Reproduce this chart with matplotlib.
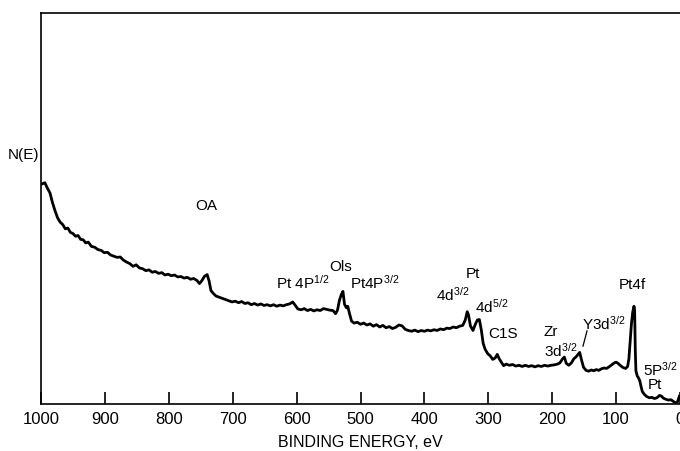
import matplotlib
matplotlib.use("Agg")
import matplotlib.pyplot as plt

plt.rcParams["font.family"] = ["Liberation Sans", "DejaVu Sans"]
plt.rcParams["mathtext.fontset"] = "custom"
plt.rcParams["mathtext.rm"] = "Liberation Sans"
plt.rcParams["mathtext.it"] = "Liberation Sans"

# XPS survey spectrum: binding energy (eV) and N(E) in arbitrary units
energy = [
    998, 994, 990, 986, 982, 978, 974, 970, 966, 962, 958, 954, 950, 946, 942,
    938, 934, 930, 926, 921, 916, 911, 906, 901, 896, 891, 886, 881, 876, 871,
    866, 861, 856, 851, 846, 841, 836, 831, 826, 821, 816, 811, 806, 801, 796,
    791, 786, 781, 776, 771, 766, 761, 756, 752, 748, 744, 740, 737, 734, 730,
    726, 721, 716, 711, 706, 701, 696, 691, 686, 681, 676, 671, 666, 661, 656,
    651, 646, 641, 636, 631, 626, 621, 616, 611, 606, 602, 598, 593, 588, 583,
    578, 573, 568, 563, 558, 553, 548, 543, 539, 536, 533, 530, 527.5, 525, 522,
    520, 517, 514, 510, 505, 500, 495, 490, 485, 480, 475, 470, 465, 460, 455,
    450, 445, 440, 435, 430, 425, 420, 415, 410, 405, 400, 395, 390, 385, 380,
    375, 370, 365, 360, 355, 350, 345, 340, 336, 333, 331, 328, 324, 320, 317,
    314, 311, 308, 305, 301, 297, 293, 289, 286, 283, 280, 276, 272, 267, 262,
    257, 252, 247, 242, 237, 232, 227, 222, 217, 212, 207, 202, 197, 192, 188,
    184, 181, 178, 174, 170, 166, 163, 160, 157, 154, 151, 147, 143, 139, 135,
    131, 127, 123, 119, 115, 111, 107, 103, 100, 97, 93, 89, 85, 82, 80,
    78, 76, 74, 72, 71, 70, 69, 67, 65, 63, 61, 59, 56, 52, 48,
    44, 40, 36, 32, 29, 26, 22, 18, 14, 10, 7, 4, 1,
]
counts = [
    56.3, 56.6, 55.2, 54.0, 51.5, 49.4, 47.6, 46.5, 45.9, 44.8, 45.0, 43.9, 43.6, 42.9, 43.1,
    42.1, 42.0, 41.2, 41.4, 40.3, 40.1, 39.5, 39.3, 38.7, 38.8, 38.1, 37.8, 37.5, 37.6, 36.8,
    36.3, 35.9, 35.2, 35.6, 34.8, 34.6, 34.1, 34.3, 33.7, 33.9, 33.4, 33.6, 33.0, 33.2, 32.8,
    33.0, 32.5, 32.6, 32.2, 32.4, 31.9, 32.1, 31.6, 30.8, 31.6, 32.7, 33.1, 31.5, 29.0, 28.2,
    27.6, 27.3, 27.0, 26.7, 26.4, 26.1, 26.3, 25.9, 26.2, 25.7, 25.9, 25.4, 25.7, 25.3, 25.6,
    25.2, 25.4, 25.1, 25.4, 25.0, 25.3, 25.1, 25.4, 25.6, 26.1, 25.2, 24.3, 24.1, 24.4, 23.9,
    24.2, 23.8, 24.1, 23.9, 24.4, 24.2, 24.0, 23.9, 23.1, 24.0, 26.5, 28.0, 28.8, 25.5, 24.6,
    25.0, 23.0, 21.2, 20.7, 20.9, 20.4, 20.7, 20.2, 20.5, 19.9, 20.3, 19.7, 20.1, 19.5, 19.8,
    19.3, 19.6, 20.2, 20.0, 19.1, 18.8, 18.6, 18.9, 18.5, 18.8, 18.6, 18.9, 18.7, 19.0, 18.8,
    19.2, 19.0, 19.4, 19.3, 19.7, 19.5, 19.9, 20.1, 21.5, 23.6, 22.8, 20.0, 18.8, 20.5, 21.5,
    21.6, 19.0, 15.5, 14.0, 12.9, 12.3, 11.4, 11.8, 12.7, 11.6, 10.8, 9.8, 10.2, 9.9, 10.1,
    9.7, 9.9, 9.6, 9.9, 9.6, 9.8, 9.5, 9.8, 9.6, 9.9, 9.7, 9.9, 10.0, 10.2, 10.5,
    11.5, 12.0, 10.4, 9.9, 10.5, 11.6, 12.0, 12.6, 13.2, 11.2, 9.4, 8.6, 8.4, 8.7, 8.5,
    8.8, 8.6, 9.0, 9.2, 9.1, 9.5, 10.0, 10.5, 10.7, 10.4, 9.8, 9.3, 9.1, 9.6, 11.5,
    16.0, 20.5, 23.5, 25.0, 24.0, 14.0, 8.5, 7.2, 6.7, 6.0, 4.5, 3.2, 2.5, 1.9, 1.6,
    1.7, 1.4, 1.6, 2.2, 2.0, 1.5, 1.2, 1.0, 1.1, 0.6, 0.3, 0.5, 2.0,
]

tick_values = [1000, 900, 800, 700, 600, 500, 400, 300, 200, 100, 0]
tick_labels = ["1000", "900", "800", "700", "600", "500", "400", "300", "200", "100", "0"]

# Peak labels: (text, binding energy, N(E) position)
peak_labels = [
    ("OA", 742, 50.9),
    ("Pt 4P$^{\\mathrm{1/2}}$", 590, 31.3),
    ("Ols", 530.5, 35.3),
    ("Pt4P$^{\\mathrm{3/2}}$", 477, 31.3),
    ("Pt", 324, 33.5),
    ("4d$^{\\mathrm{3/2}}$", 355, 28.3),
    ("4d$^{\\mathrm{5/2}}$", 294, 25.2),
    ("C1S", 277, 18.2),
    ("Zr", 202, 18.6),
    ("3d$^{\\mathrm{3/2}}$", 186, 14.0),
    ("Y3d$^{\\mathrm{3/2}}$", 120, 20.8),
    ("Pt4f", 74, 30.7),
    ("5P$^{\\mathrm{3/2}}$", 31, 9.0),
    ("Pt", 39, 5.1),
]

fig = plt.figure(figsize=(6.8, 4.52), dpi=100)
ax = fig.add_axes([41 / 680, 1 - 405 / 452, 639 / 680, (405 - 14) / 452])

ax.plot(energy, counts, color="black", lw=2.0, solid_joinstyle="round")

ax.set_xlim(1000, 0)
ax.set_ylim(0, 100)

for side in ("left", "top", "bottom"):
    ax.spines[side].set_linewidth(1.2)
ax.spines["right"].set_visible(False)

ax.set_xticks(tick_values)
ax.set_xticklabels(tick_labels, fontsize=12)
ax.tick_params(axis="x", direction="in", length=9, width=1.2, pad=5)
ax.set_yticks([])

ax.set_xlabel("BINDING ENERGY, eV", fontsize=11.5, labelpad=6)
ax.text(-0.003, 0.64, "N(E)", transform=ax.transAxes, ha="right", va="center",
        fontsize=11)

for text, e, v in peak_labels:
    ax.text(e, v, text, ha="center", va="center", fontsize=11)

# pointer from the Y3d label down to its peak
ax.plot([145.5, 151.8], [18.7, 14.8], color="black", lw=0.9)

fig.savefig("out.png", dpi=100)
